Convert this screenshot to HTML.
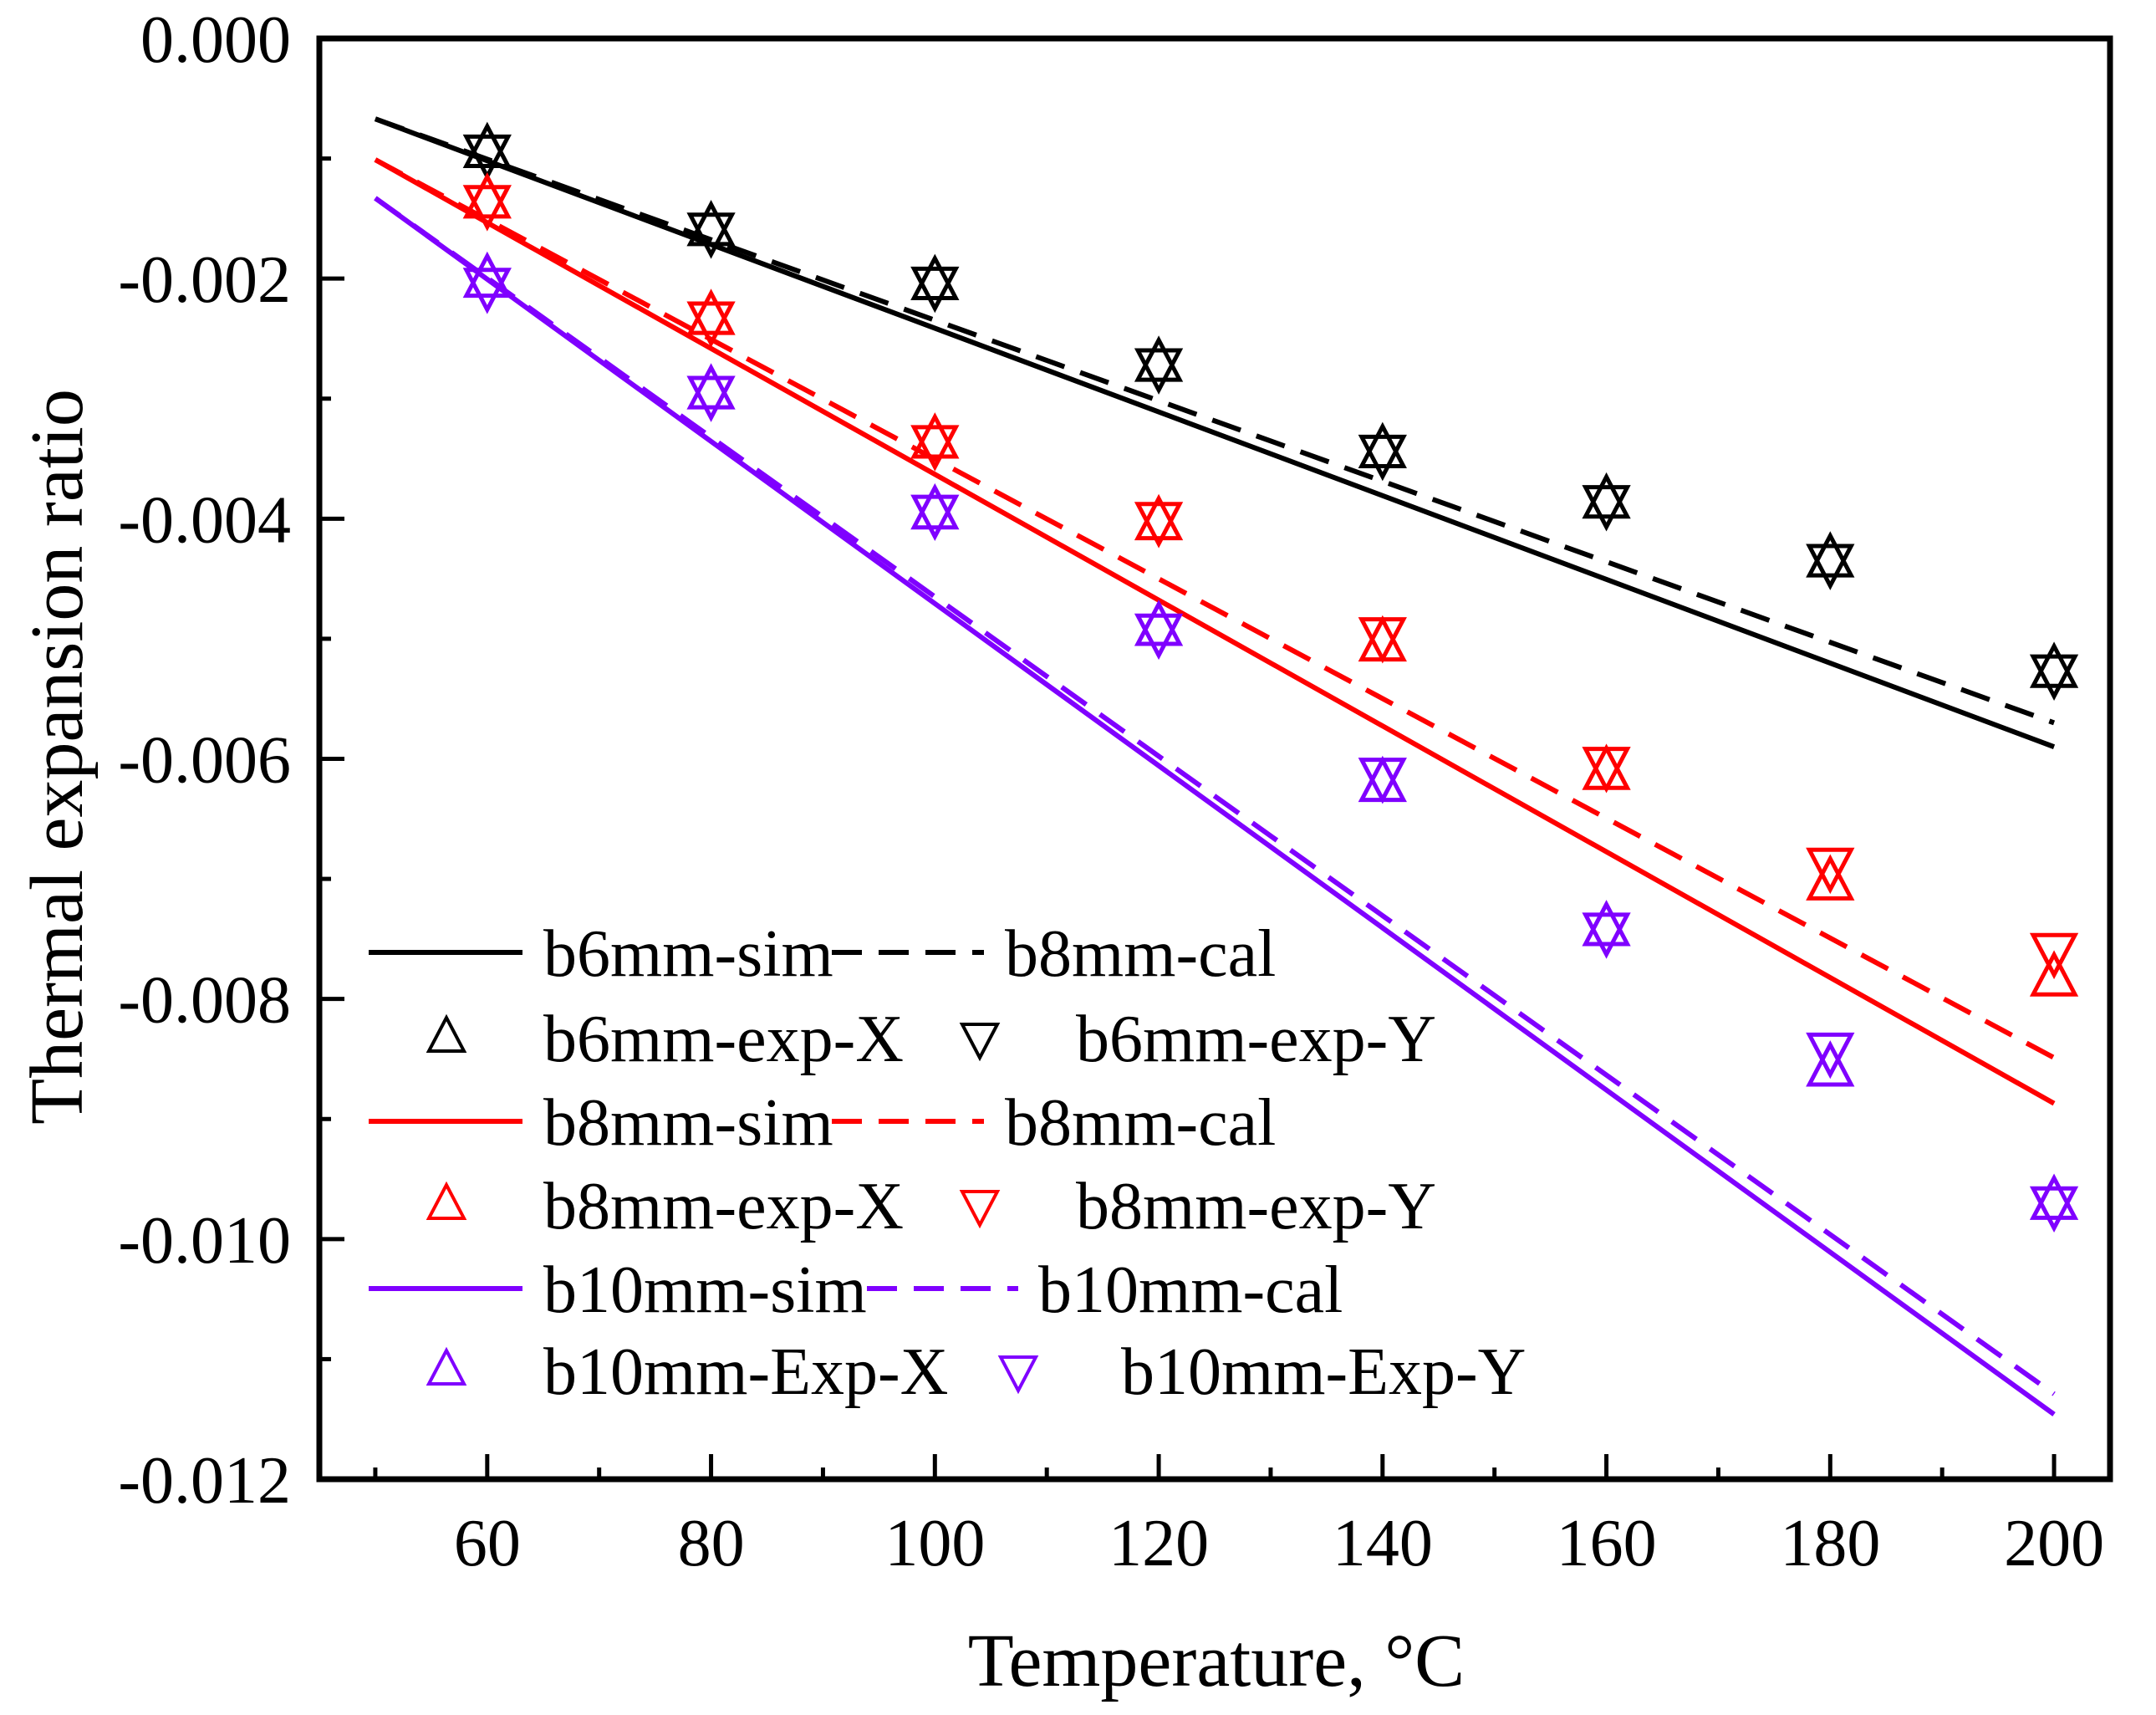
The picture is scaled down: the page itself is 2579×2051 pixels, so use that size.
<!DOCTYPE html>
<html><head><meta charset="utf-8"><style>
html,body{margin:0;padding:0;background:#fff;}
svg{display:block;font-family:"Liberation Serif","Times New Roman",serif;}
</style></head><body>
<svg id="chart" xmlns="http://www.w3.org/2000/svg" width="2579" height="2051" viewBox="0 0 2579 2051">
<rect x="0" y="0" width="2579" height="2051" fill="#fff"/>
<g id="marks"></g>
<g id="axes"></g>
<g id="legend"></g>
<text x="1455" y="2016" font-size="90" text-anchor="middle">Temperature, °C</text>
<text transform="translate(98,905) rotate(-90)" font-size="90" text-anchor="middle">Thermal expansion ratio</text>
</svg>
<script>
const lineTemps = [50, 200];
const b6Sim = [-0.00067, -0.0059];
const b6Cal = [-0.00067, -0.0057];
const b8Sim = [-0.00101, -0.00887];
const b8Cal = [-0.00101, -0.00849];
const b10Sim = [-0.00133, -0.01146];
const b10Cal = [-0.00133, -0.01129];
const expTemps = [60, 80, 100, 120, 140, 160, 180, 200];
const b6ExpX = [-0.00093, -0.00158, -0.00203, -0.00271, -0.00343, -0.00385, -0.00434, -0.00526];
const b6ExpY = [-0.00095, -0.00160, -0.00205, -0.00273, -0.00345, -0.00387, -0.00436, -0.00528];
const b8ExpX = [-0.00135, -0.00232, -0.00335, -0.00403, -0.00504, -0.00611, -0.00703, -0.00783];
const b8ExpY = [-0.00137, -0.00234, -0.00337, -0.00401, -0.00497, -0.00605, -0.00689, -0.00760];
const b10ExpX = [-0.00201, -0.00294, -0.00394, -0.00491, -0.00621, -0.00741, -0.00858, -0.00969];
const b10ExpY = [-0.00206, -0.00296, -0.00395, -0.00494, -0.00614, -0.00743, -0.00843, -0.00971];
const xMajorTicks = [60, 80, 100, 120, 140, 160, 180, 200];
const xMinorTicks = [50, 70, 90, 110, 130, 150, 170, 190];
const yMajorTicks = [0, -0.002, -0.004, -0.006, -0.008, -0.010, -0.012];
const yMinorTicks = [-0.001, -0.003, -0.005, -0.007, -0.009, -0.011];
const yTickLabels = ["0.000", "-0.002", "-0.004", "-0.006", "-0.008", "-0.010", "-0.012"];

const NS = "http://www.w3.org/2000/svg";
const L = 382, R = 2524, T = 46, B = 1769;
const X0 = 45, X1 = 205, Y0 = 0, Y1 = -0.012;
function sx(v){ return L + (v - X0) / (X1 - X0) * (R - L); }
function sy(v){ return T + (v - Y0) / (Y1 - Y0) * (B - T); }
function mk(tag, attrs, parent){
  const e = document.createElementNS(NS, tag);
  for (const k in attrs) e.setAttribute(k, attrs[k]);
  parent.appendChild(e);
  return e;
}
const marks = document.getElementById('marks');
const axes = document.getElementById('axes');
const legend = document.getElementById('legend');
const BLACK = "#000", RED = "#ff0000", PURPLE = "#7f00ff";

function drawLine(vals, color, dashed, name){
  const p = mk('polyline', {points: lineTemps.map((t,i)=>sx(t)+','+sy(vals[i])).join(' '), fill:'none', stroke:color, 'stroke-width':6, 'stroke-dasharray': dashed ? '36 20' : 'none'}, marks);
  
  
}
function triPts(cx, cy, up, s){
  const h = s * 0.95;
  if (up) return [cx+','+(cy-h*0.6), (cx-s/2)+','+(cy+h*0.4), (cx+s/2)+','+(cy+h*0.4)].join(' ');
  return [cx+','+(cy+h*0.6), (cx-s/2)+','+(cy-h*0.4), (cx+s/2)+','+(cy-h*0.4)].join(' ');
}
function drawTris(vals, color, up, name){
  expTemps.forEach((t,i)=>{
    const p = mk('polygon', {points: triPts(sx(t), sy(vals[i]), up, 50), fill:'none', stroke:color, 'stroke-width':5}, marks);
    
    
  });
}
drawLine(b6Sim, BLACK, false, 'b6mm-sim-line');
drawLine(b6Cal, BLACK, true, 'b6mm-cal-line');
drawLine(b8Sim, RED, false, 'b8mm-sim-line');
drawLine(b8Cal, RED, true, 'b8mm-cal-line');
drawLine(b10Sim, PURPLE, false, 'b10mm-sim-line');
drawLine(b10Cal, PURPLE, true, 'b10mm-cal-line');
drawTris(b6ExpX, BLACK, true, 'b6mm-exp-x-point');
drawTris(b6ExpY, BLACK, false, 'b6mm-exp-y-point');
drawTris(b8ExpX, RED, true, 'b8mm-exp-x-point');
drawTris(b8ExpY, RED, false, 'b8mm-exp-y-point');
drawTris(b10ExpX, PURPLE, true, 'b10mm-exp-x-point');
drawTris(b10ExpY, PURPLE, false, 'b10mm-exp-y-point');

const frame = mk('rect', {x:L, y:T, width:R-L, height:B-T, fill:'none', stroke:'#000', 'stroke-width':7}, axes);


xMajorTicks.forEach(t=>{
  const l = mk('line', {x1:sx(t), x2:sx(t), y1:B, y2:B-30, stroke:'#000', 'stroke-width':5}, axes);
  
  
  const tx = mk('text', {x:sx(t), y:1872, 'font-size':80, 'text-anchor':'middle'}, axes);
  tx.textContent = String(t);
  
  
});
xMinorTicks.forEach(t=>{
  const l = mk('line', {x1:sx(t), x2:sx(t), y1:B, y2:B-14, stroke:'#000', 'stroke-width':5}, axes);
  
  
});
yMajorTicks.forEach((v,i)=>{
  const l = mk('line', {x1:L, x2:L+30, y1:sy(v), y2:sy(v), stroke:'#000', 'stroke-width':5}, axes);
  
  
  const tx = mk('text', {x:348, y:sy(v)+28, 'font-size':80, 'text-anchor':'end'}, axes);
  tx.textContent = yTickLabels[i];
  
  
});
yMinorTicks.forEach(v=>{
  const l = mk('line', {x1:L, x2:L+14, y1:sy(v), y2:sy(v), stroke:'#000', 'stroke-width':5}, axes);
  
  
});

const rows = [1139, 1241, 1341, 1441, 1541, 1639];
function legText(x, y, s){
  const t = mk('text', {x:x, y:y+28, 'font-size':80}, legend);
  t.textContent = s;
  
  
}
function legLine(x1, x2, y, color, dashed){
  const l = mk('line', {x1:x1, x2:x2, y1:y, y2:y, stroke:color, 'stroke-width':6, 'stroke-dasharray': dashed ? '36 20' : 'none'}, legend);
  
  
}
function legTri(x, y, color, up){
  const p = mk('polygon', {points: triPts(x, y, up, 42), fill:'none', stroke:color, 'stroke-width':4}, legend);
  
  
}
legLine(441, 625, rows[0], BLACK, false); legText(650, rows[0], 'b6mm-sim');
legLine(995, 1177, rows[0], BLACK, true); legText(1202, rows[0], 'b8mm-cal');
legTri(534, rows[1], BLACK, true); legText(650, rows[1], 'b6mm-exp-X');
legTri(1172, rows[1], BLACK, false); legText(1287, rows[1], 'b6mm-exp-Y');
legLine(441, 625, rows[2], RED, false); legText(650, rows[2], 'b8mm-sim');
legLine(995, 1177, rows[2], RED, true); legText(1202, rows[2], 'b8mm-cal');
legTri(534, rows[3], RED, true); legText(650, rows[3], 'b8mm-exp-X');
legTri(1172, rows[3], RED, false); legText(1287, rows[3], 'b8mm-exp-Y');
legLine(441, 625, rows[4], PURPLE, false); legText(650, rows[4], 'b10mm-sim');
legLine(1037, 1218, rows[4], PURPLE, true); legText(1242, rows[4], 'b10mm-cal');
legTri(534, rows[5], PURPLE, true); legText(650, rows[5], 'b10mm-Exp-X');
legTri(1218, rows[5], PURPLE, false); legText(1341, rows[5], 'b10mm-Exp-Y');
</script>
</body></html>
